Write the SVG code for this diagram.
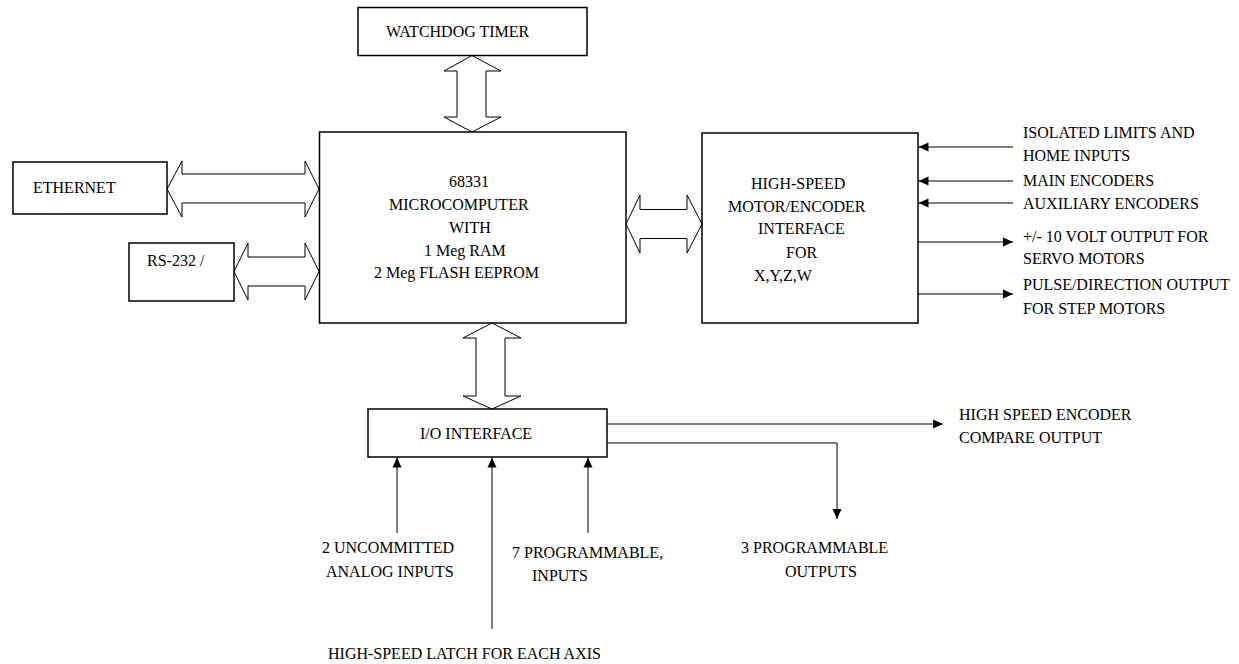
<svg xmlns="http://www.w3.org/2000/svg" width="1239" height="664" viewBox="0 0 1239 664">
<style>
.box{fill:#fff;stroke:#000;stroke-width:1.5}
.bus{fill:#fff;stroke:#000;stroke-width:1}
.ln{fill:none;stroke:#000;stroke-width:1}
text{font-family:"Liberation Serif","Times New Roman",serif;font-size:16px;fill:#000}
</style>
<defs>
<marker id="ah" markerUnits="userSpaceOnUse" markerWidth="10" markerHeight="10" refX="10" refY="5" orient="auto">
<path d="M0,0.5 L10,5 L0,9.5 z" fill="#000"/>
</marker>
</defs>
<rect width="1239" height="664" fill="#fff"/>
<g id="connectors">
<polygon class="bus" points="472,55.5 501,71 486,71 486,117 501,117 472,132 444,117 457,117 457,71 444,71"/>
<polygon class="bus" points="167,189 182,161 182,174 305,174 305,161 319,189 305,217 305,203 182,203 182,217"/>
<polygon class="bus" points="234,271.5 248,243 248,257 305,257 305,243 319,271.5 305,300 305,286 248,286 248,300"/>
<polygon class="bus" points="626,224 640,195 640,209.5 687,209.5 687,195 702,224 687,253 687,238.5 640,238.5 640,253"/>
<polygon class="bus" points="492,323 521,338 505,338 505,396 521,396 492,409 463,396 476,396 476,338 463,338"/>
<line class="ln" x1="1013" y1="147" x2="918.5" y2="147" marker-end="url(#ah)"/>
<line class="ln" x1="1013" y1="181" x2="918.5" y2="181" marker-end="url(#ah)"/>
<line class="ln" x1="1013" y1="203" x2="918.5" y2="203" marker-end="url(#ah)"/>
<line class="ln" x1="918" y1="242" x2="1013" y2="242" marker-end="url(#ah)"/>
<line class="ln" x1="918" y1="294" x2="1013" y2="294" marker-end="url(#ah)"/>
<line class="ln" x1="607" y1="424" x2="943" y2="424" marker-end="url(#ah)"/>
<polyline class="ln" points="607,443 837,443 837,519" marker-end="url(#ah)"/>
<line class="ln" x1="397" y1="533" x2="397" y2="457.5" marker-end="url(#ah)"/>
<line class="ln" x1="492" y1="629" x2="492" y2="457.5" marker-end="url(#ah)"/>
<line class="ln" x1="588" y1="533" x2="588" y2="457.5" marker-end="url(#ah)"/>
</g>
<g id="watchdog">
<rect class="box" x="358" y="7.5" width="229" height="48"/>
<text x="386" y="37">WATCHDOG TIMER</text>
</g>
<g id="ethernet">
<rect class="box" x="13" y="162" width="154" height="52"/>
<text x="33" y="193">ETHERNET</text>
</g>
<g id="rs232">
<rect class="box" x="129" y="243" width="105" height="58"/>
<text x="147" y="266">RS-232 /</text>
</g>
<g id="microcomputer">
<rect class="box" x="319.5" y="132" width="306.5" height="191"/>
<text x="449" y="187">68331</text>
<text x="389" y="210">MICROCOMPUTER</text>
<text x="449" y="233">WITH</text>
<text x="424" y="256">1 Meg RAM</text>
<text x="374" y="278">2 Meg FLASH EEPROM</text>
</g>
<g id="motor-encoder">
<rect class="box" x="702" y="133" width="216" height="190"/>
<text x="751" y="189">HIGH-SPEED</text>
<text x="728" y="212">MOTOR/ENCODER</text>
<text x="758" y="234">INTERFACE</text>
<text x="786" y="258">FOR</text>
<text x="754" y="281">X,Y,Z,W</text>
</g>
<g id="io-interface">
<rect class="box" x="368" y="409" width="239" height="48"/>
<text x="420" y="439">I/O INTERFACE</text>
</g>
<g id="labels">
<text x="1023" y="138">ISOLATED LIMITS AND</text>
<text x="1023" y="161">HOME INPUTS</text>
<text x="1023" y="186">MAIN ENCODERS</text>
<text x="1023" y="209">AUXILIARY ENCODERS</text>
<text x="1023" y="242">+/- 10 VOLT OUTPUT FOR</text>
<text x="1023" y="264">SERVO MOTORS</text>
<text x="1023" y="290">PULSE/DIRECTION OUTPUT</text>
<text x="1023" y="314">FOR STEP MOTORS</text>
<text x="959" y="420">HIGH SPEED ENCODER</text>
<text x="959" y="443">COMPARE OUTPUT</text>
<text x="322" y="553">2 UNCOMMITTED</text>
<text x="326" y="577">ANALOG INPUTS</text>
<text x="512" y="558">7 PROGRAMMABLE,</text>
<text x="532" y="581">INPUTS</text>
<text x="741" y="553">3 PROGRAMMABLE</text>
<text x="785" y="577">OUTPUTS</text>
<text x="328" y="659">HIGH-SPEED LATCH FOR EACH AXIS</text>
</g>
</svg>
